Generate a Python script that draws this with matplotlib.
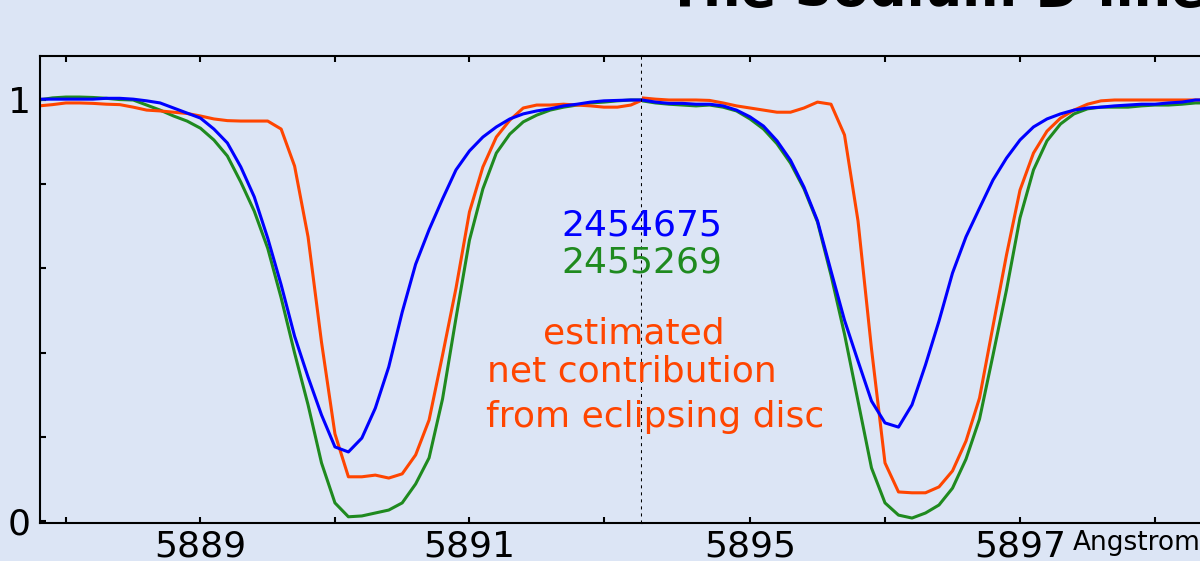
import matplotlib
matplotlib.use("Agg")
import matplotlib.pyplot as plt
from matplotlib.ticker import FixedLocator, FixedFormatter

# ---- spectra around the Na D2 line (left panel) ----
wave_d2 = [5887.8, 5887.9, 5888.0, 5888.1, 5888.2, 5888.3, 5888.4, 5888.5, 5888.6, 5888.7,
           5888.8, 5888.9, 5889.0, 5889.1, 5889.2, 5889.3, 5889.4, 5889.5, 5889.6, 5889.7,
           5889.8, 5889.9, 5890.0, 5890.1, 5890.2, 5890.3, 5890.4, 5890.5, 5890.6, 5890.7,
           5890.8, 5890.9, 5891.0, 5891.1, 5891.2, 5891.3, 5891.4, 5891.5, 5891.6, 5891.7,
           5891.8, 5891.9, 5892.0, 5892.1, 5892.2, 5892.3]
jd2454675_d2 = [1.002, 1.002, 1.002, 1.002, 1.002, 1.004, 1.004, 1.002, 0.998, 0.993,
                0.981, 0.969, 0.957, 0.931, 0.898, 0.841, 0.770, 0.672, 0.561, 0.439,
                0.342, 0.252, 0.176, 0.164, 0.197, 0.268, 0.366, 0.496, 0.610, 0.692,
                0.765, 0.834, 0.879, 0.912, 0.936, 0.955, 0.967, 0.974, 0.979, 0.986,
                0.990, 0.995, 0.998, 0.999, 1.000, 1.000]
jd2455269_d2 = [1.000, 1.005, 1.007, 1.007, 1.006, 1.004, 1.001, 1.000, 0.988, 0.976,
                0.962, 0.950, 0.933, 0.905, 0.867, 0.805, 0.736, 0.648, 0.530, 0.399,
                0.276, 0.138, 0.043, 0.010, 0.012, 0.019, 0.026, 0.043, 0.088, 0.150,
                0.290, 0.482, 0.667, 0.789, 0.874, 0.919, 0.948, 0.964, 0.976, 0.983,
                0.988, 0.993, 0.995, 0.998, 1.000, 1.000]
disc_d2 = [0.986, 0.989, 0.993, 0.993, 0.992, 0.990, 0.989, 0.983, 0.976, 0.974,
           0.971, 0.968, 0.962, 0.955, 0.951, 0.950, 0.950, 0.950, 0.931, 0.843,
           0.675, 0.425, 0.207, 0.105, 0.105, 0.109, 0.102, 0.112, 0.157, 0.240,
           0.394, 0.553, 0.734, 0.841, 0.912, 0.952, 0.981, 0.988, 0.988, 0.990,
           0.988, 0.986, 0.983, 0.983, 0.988, 1.002]

# ---- spectra around the Na D1 line (right panel) ----
wave_d1 = [5894.2, 5894.3, 5894.4, 5894.5, 5894.6, 5894.7, 5894.8, 5894.9, 5895.0, 5895.1,
           5895.2, 5895.3, 5895.4, 5895.5, 5895.6, 5895.7, 5895.8, 5895.9, 5896.0, 5896.1,
           5896.2, 5896.3, 5896.4, 5896.5, 5896.6, 5896.7, 5896.8, 5896.9, 5897.0, 5897.1,
           5897.2, 5897.3, 5897.4, 5897.5, 5897.6, 5897.7, 5897.8, 5897.9, 5898.0, 5898.1,
           5898.2, 5898.3, 5898.4]
jd2454675_d1 = [1.000, 0.995, 0.992, 0.992, 0.990, 0.990, 0.986, 0.976, 0.960, 0.938,
                0.903, 0.857, 0.793, 0.713, 0.594, 0.477, 0.380, 0.285, 0.233, 0.223,
                0.276, 0.371, 0.475, 0.589, 0.675, 0.743, 0.810, 0.862, 0.905, 0.936,
                0.955, 0.967, 0.976, 0.981, 0.983, 0.986, 0.988, 0.990, 0.990, 0.993,
                0.995, 1.000, 1.000]
jd2455269_d1 = [0.998, 0.993, 0.990, 0.988, 0.986, 0.988, 0.983, 0.974, 0.955, 0.931,
                0.896, 0.850, 0.789, 0.710, 0.584, 0.444, 0.285, 0.126, 0.043, 0.014,
                0.007, 0.019, 0.038, 0.078, 0.147, 0.242, 0.394, 0.549, 0.720, 0.834,
                0.903, 0.943, 0.967, 0.979, 0.983, 0.983, 0.983, 0.986, 0.988, 0.988,
                0.990, 0.993, 0.993]
disc_d1 = [1.005, 1.002, 1.000, 1.000, 1.000, 0.999, 0.993, 0.986, 0.981, 0.976,
           0.971, 0.971, 0.981, 0.995, 0.990, 0.917, 0.713, 0.409, 0.138, 0.069,
           0.067, 0.067, 0.081, 0.119, 0.190, 0.292, 0.463, 0.632, 0.786, 0.874,
           0.926, 0.957, 0.976, 0.990, 0.998, 1.000, 1.000, 1.000, 1.000, 1.000,
           1.000, 1.000, 1.000]

# axis ticks
d2_ticks = [5888, 5889, 5890, 5891, 5892]
d2_labels = ["", "5889", "", "5891", ""]
d1_ticks = [5895, 5896, 5897, 5898]
d1_labels = ["5895", "", "5897", ""]
y_major = [0, 1]
y_major_labels = ["0", "1"]
y_minor = [0.2, 0.4, 0.6, 0.8]

BG = "#dce5f5"
BLUE = "#0000ff"
GREEN = "#1f8a1f"
ORANGE = "#ff4500"

W, H = 1200, 561
fig = plt.figure(figsize=(W / 100, H / 100), dpi=100, facecolor=BG)


def px(x, y):
    return x / W, 1 - y / H


x0, x_break, x1 = 40, 642, 1209
y_top, y_bot = 56, 523
bottom = 1 - y_bot / H
height = (y_bot - y_top) / H
axL = fig.add_axes([x0 / W, bottom, (x_break - x0) / W, height], facecolor=BG)
axR = fig.add_axes([x_break / W, bottom, (x1 - x_break) / W, height], facecolor=BG)

for ax, wave, series in [
    (axL, wave_d2, (jd2454675_d2, jd2455269_d2, disc_d2)),
    (axR, wave_d1, (jd2454675_d1, jd2455269_d1, disc_d1)),
]:
    b, g, o = series
    ax.plot(wave, g, color=GREEN, lw=2.2, solid_joinstyle="round")
    ax.plot(wave, o, color=ORANGE, lw=2.2, solid_joinstyle="round")
    ax.plot(wave, b, color=BLUE, lw=2.2, solid_joinstyle="round")
    ax.set_ylim(-0.00475, 1.1045)
    for s in ax.spines.values():
        s.set_linewidth(1.5)
        s.set_color("black")

axL.set_xlim(5887.807, 5892.283)
axR.set_xlim(5894.2, 5898.4)

axL.spines["right"].set_visible(False)
axR.spines["left"].set_visible(False)
axR.spines["right"].set_visible(False)

tick_kw = dict(direction="in", length=4.3, width=1.5, color="black", labelsize=26)
axL.xaxis.set_major_locator(FixedLocator(d2_ticks))
axL.xaxis.set_major_formatter(FixedFormatter(d2_labels))
axR.xaxis.set_major_locator(FixedLocator(d1_ticks))
axR.xaxis.set_major_formatter(FixedFormatter(d1_labels))
for ax in (axL, axR):
    ax.tick_params(axis="x", which="both", top=True, bottom=True, pad=4.5, **tick_kw)

axL.yaxis.set_major_locator(FixedLocator(y_major))
axL.yaxis.set_major_formatter(FixedFormatter(y_major_labels))
axL.yaxis.set_minor_locator(FixedLocator(y_minor))
axL.tick_params(axis="y", which="both", left=True, right=False, pad=6.5, **tick_kw)
axR.tick_params(axis="y", which="both", left=False, right=False, labelleft=False)

# break between the two wavelength windows
axL.axvline(axL.get_xlim()[1], color="black", lw=2.2, linestyle=(0, (1.0, 1.3)),
            clip_on=False, zorder=5)

# labels
fig.text(*px(1073, 550), "Angstrom", fontsize=19, ha="left", va="baseline")
fig.text(*px(667, 6), "The Sodium D lines", fontsize=38, fontweight="bold",
         ha="left", va="baseline")
fig.text(*px(642, 235), "2454675", color=BLUE, fontsize=26, ha="center", va="baseline")
fig.text(*px(642, 273), "2455269", color=GREEN, fontsize=26, ha="center", va="baseline")
fig.text(*px(634, 343), "estimated", color=ORANGE, fontsize=26, ha="center", va="baseline")
fig.text(*px(632, 382), "net contribution", color=ORANGE, fontsize=26, ha="center",
         va="baseline")
fig.text(*px(655, 427), "from eclipsing disc", color=ORANGE, fontsize=26, ha="center",
         va="baseline")

fig.savefig("out.png", dpi=100, facecolor=BG)
